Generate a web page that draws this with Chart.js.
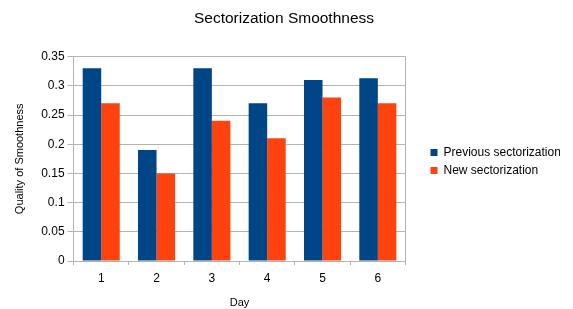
<!DOCTYPE html>
<html>
<head>
<meta charset="utf-8">
<script src="https://cdn.jsdelivr.net/npm/chart.js@4"></script>
<style>
  html, body { margin: 0; padding: 0; background: #fff; }
  #wrap { width: 573px; height: 309px; }
</style>
</head>
<body>
<div id="wrap"><canvas id="myChart" width="573" height="309"></canvas></div>
<script>
// chart data
const days = ['1', '2', '3', '4', '5', '6'];
const previousSectorization = [0.33, 0.19, 0.33, 0.27, 0.31, 0.313];
const newSectorization = [0.27, 0.15, 0.24, 0.21, 0.28, 0.27];
const yTicks = { min: 0, max: 0.35, step: 0.05 };

Chart.defaults.font.family = "'Liberation Sans', Arial, sans-serif";
Chart.defaults.color = '#000';

// gap between plot and legend, and legend nudged down a bit
const legendGap = 14;
const legendPlace = {
  id: 'legendPlace',
  afterInit(chart) {
    const leg = chart.legend;
    const fit = leg.fit;
    leg.fit = function () {
      fit.call(this);
      this.width += legendGap;
    };
  },
  afterLayout(chart) {
    const leg = chart.legend;
    leg.left += legendGap + 5;
    leg.right += 5;
    leg.top += 14;
  },
  // right border of the plot area
  beforeDatasetsDraw(chart) {
    const a = chart.chartArea;
    const c = chart.ctx;
    c.save();
    c.strokeStyle = '#b3b3b3';
    c.lineWidth = 1;
    c.beginPath();
    c.moveTo(Math.round(a.right) - 0.5, a.top);
    c.lineTo(Math.round(a.right) - 0.5, a.bottom);
    c.stroke();
    c.restore();
  }
};

var ctx = document.getElementById('myChart').getContext('2d');
var myChart = new Chart(ctx, {
  type: 'bar',
  data: {
    labels: days,
    datasets: [{
      label: 'Previous sectorization',
      data: previousSectorization,
      backgroundColor: '#004586',
      barPercentage: 1,
      categoryPercentage: 0.67
    }, {
      label: 'New sectorization',
      data: newSectorization,
      backgroundColor: '#ff420e',
      barPercentage: 1,
      categoryPercentage: 0.67
    }]
  },
  options: {
    responsive: false,
    animation: false,
    layout: { padding: { left: 13, right: 18, top: 0, bottom: 0 } },
    plugins: {
      title: {
        display: true,
        text: 'Sectorization Smoothness',
        font: { size: 15.5, weight: 'normal' },
        padding: { top: 9, bottom: 29 }
      },
      legend: {
        position: 'right',
        labels: {
          boxWidth: 7,
          boxHeight: 7,
          padding: 6,
          font: { size: 12 }
        }
      },
      tooltip: { enabled: false }
    },
    scales: {
      x: {
        grid: {
          offset: true,
          drawOnChartArea: false,
          drawTicks: true,
          tickLength: 4,
          color: '#b3b3b3'
        },
        border: { color: '#b3b3b3' },
        ticks: { font: { size: 12, lineHeight: 1 }, padding: 8 },
        title: { display: true, text: 'Day', font: { size: 11, lineHeight: 1 }, padding: { top: 4, bottom: 1 } }
      },
      y: {
        min: yTicks.min,
        max: yTicks.max,
        ticks: {
          stepSize: yTicks.step,
          font: { size: 12 },
          padding: 3,
          callback: v => String(+v.toFixed(2))
        },
        grid: { color: '#b3b3b3', tickLength: 6 },
        border: { color: '#b3b3b3' },
        title: { display: true, text: 'Quality of Smoothness', font: { size: 11 }, padding: { top: 0, bottom: 12 } }
      }
    }
  },
  plugins: [legendPlace]
});
</script>
</body>
</html>
